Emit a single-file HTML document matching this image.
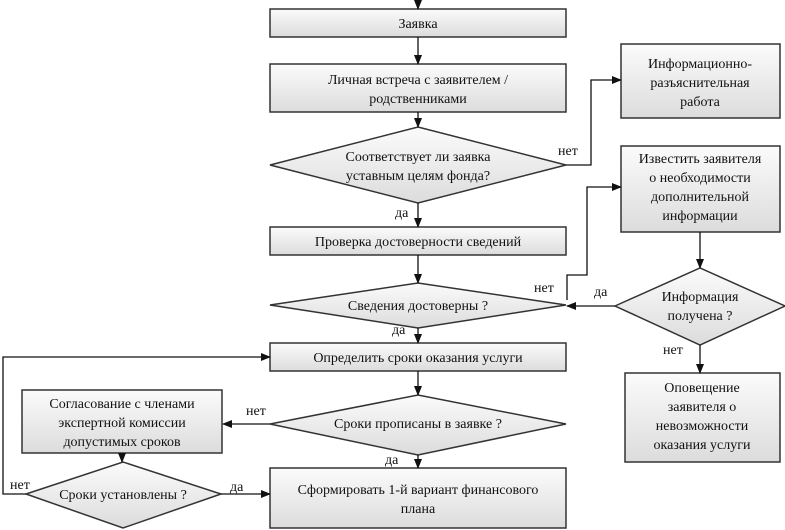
<!DOCTYPE html>
<html><head><meta charset="utf-8"><style>html,body{margin:0;padding:0;background:#fff}svg{display:block}text{font-family:"Liberation Serif",serif;font-size:14px;fill:#111}</style></head><body>
<svg width="785" height="530" viewBox="0 0 785 530" xmlns="http://www.w3.org/2000/svg">
<defs>
<linearGradient id="g" x1="0" y1="0" x2="0" y2="1"><stop offset="0" stop-color="#fbfbfb"/><stop offset="1" stop-color="#dcdcdc"/></linearGradient>
<marker id="a" markerWidth="10" markerHeight="8" refX="9" refY="4" orient="auto" markerUnits="userSpaceOnUse"><path d="M0,0 L10,4 L0,8 z" fill="#111"/></marker>
</defs>
<g stroke="#333" stroke-width="1.5" fill="url(#g)">
<rect x="270" y="9" width="296" height="28"/>
<rect x="270" y="64" width="296" height="48"/>
<polygon points="270,165 418,127 566,165 418,203"/>
<rect x="270" y="227" width="296" height="28"/>
<polygon points="270,305 418,283 566,305 418,328"/>
<rect x="270" y="343" width="296" height="28"/>
<polygon points="270,424 418,395 566,424 418,455"/>
<rect x="270" y="468" width="296" height="60"/>
<rect x="22" y="390" width="200" height="63"/>
<polygon points="26,494 123,462 221,494 123,528"/>
<rect x="621" y="44" width="159" height="74"/>
<rect x="621" y="146" width="159" height="86"/>
<polygon points="615,306 700,268 785,306 700,345"/>
<rect x="625" y="373" width="155" height="89"/>
</g>
<g stroke="#111" stroke-width="1.3" fill="none" marker-end="url(#a)">
<path d="M418,0 V9"/><path d="M418,37 V64"/><path d="M418,112 V127"/><path d="M418,203 V227"/>
<path d="M418,255 V283"/><path d="M418,328 V343"/><path d="M418,371 V395"/><path d="M418,455 V468"/>
<path d="M566,165 H591 V80 H621"/>
<path d="M567,300 V275 H587 V187 H621"/>
<path d="M700,232 V268"/>
<path d="M615,306 H567"/>
<path d="M700,345 V373"/>
<path d="M270,424 H223"/>
<path d="M122,453 V462"/>
<path d="M221,494 H270"/>
<path d="M26,494 H3 V357 H270"/>
</g>
<g text-anchor="middle">
<text x="418" y="28">Заявка</text>
<text x="418" y="84">Личная встреча с заявителем /</text>
<text x="418" y="103">родственниками</text>
<text x="418" y="161">Соответствует ли заявка</text>
<text x="418" y="180">уставным целям фонда?</text>
<text x="418" y="246">Проверка достоверности сведений</text>
<text x="418" y="310">Сведения достоверны ?</text>
<text x="418" y="362">Определить сроки оказания услуги</text>
<text x="418" y="428">Сроки прописаны в заявке ?</text>
<text x="418" y="494">Сформировать 1-й вариант финансового</text>
<text x="418" y="513">плана</text>
<text x="122" y="408">Согласование с членами</text>
<text x="122" y="427">экспертной комиссии</text>
<text x="122" y="446">допустимых сроков</text>
<text x="123" y="499">Сроки установлены ?</text>
<text x="700" y="68">Информационно-</text>
<text x="700" y="87">разъяснительная</text>
<text x="700" y="106">работа</text>
<text x="700" y="163">Известить заявителя</text>
<text x="700" y="182">о необходимости</text>
<text x="700" y="201">дополнительной</text>
<text x="700" y="220">информации</text>
<text x="700" y="301">Информация</text>
<text x="700" y="320">получена ?</text>
<text x="702" y="392">Оповещение</text>
<text x="702" y="411">заявителя о</text>
<text x="702" y="430">невозможности</text>
<text x="702" y="449">оказания услуги</text>
</g>
<g style="font-size:13px">
<text x="558" y="155">нет</text>
<text x="395" y="217">да</text>
<text x="534" y="292">нет</text>
<text x="594" y="296">да</text>
<text x="392" y="334">да</text>
<text x="663" y="354">нет</text>
<text x="246" y="415">нет</text>
<text x="385" y="464">да</text>
<text x="10" y="489">нет</text>
<text x="230" y="491">да</text>
</g>
</svg>
</body></html>
